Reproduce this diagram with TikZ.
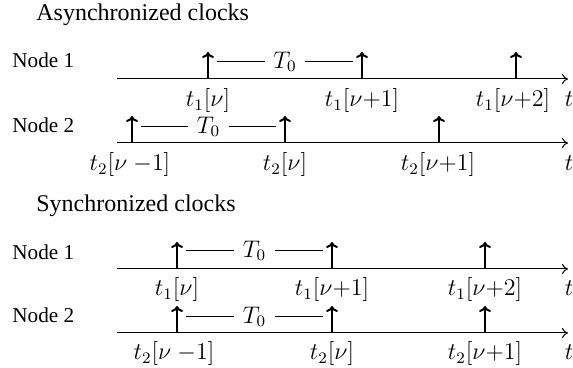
\documentclass[tikz,border=0pt]{standalone}
\usepackage{fontspec}
\setmainfont{Liberation Serif}
\usetikzlibrary{arrows.meta}
\begin{document}
\begin{tikzpicture}[x=0.5pt,y=-0.5pt,
  axis/.style={line width=0.5pt,-{To[length=3pt,width=5pt]}},
  tick/.style={line width=1pt,-{To[length=3pt,width=6pt]}},
  span/.style={line width=0.5pt},
  lab/.style={font=\fontsize{12}{14}\selectfont, inner sep=0pt, anchor=base},
  tz/.style={font=\fontsize{12}{14}\selectfont, inner ysep=0pt, inner xsep=4pt},
  title/.style={font=\fontsize{12}{14}\selectfont, anchor=base west, inner sep=0pt},
  nlab/.style={font=\fontsize{10.6}{12}\selectfont, anchor=base west, inner sep=0pt}]
\useasboundingbox (0,0) rectangle (573,368);
% titles
\node[title] (ta) at (36,21) {Asynchronized clocks};
\node[title] (ts) at (36,212) {Synchronized clocks};
% node labels
\node[nlab] (n1a) at (12,68) {Node 1};
\node[nlab] (n2a) at (12,133) {Node 2};
\node[nlab] (n1s) at (12,260) {Node 1};
\node[nlab] (n2s) at (12,323) {Node 2};
% axes
\coordinate (a1s) at (117,79);  \coordinate (a1e) at (568,79);
\coordinate (a2s) at (117,143); \coordinate (a2e) at (568,143);
\coordinate (s1s) at (117,269); \coordinate (s1e) at (568,269);
\coordinate (s2s) at (117,333); \coordinate (s2e) at (568,333);
\draw[axis] (a1s) -- (a1e);
\draw[axis] (a2s) -- (a2e);
\draw[axis] (s1s) -- (s1e);
\draw[axis] (s2s) -- (s2e);
% ticks: async row 1
\foreach \x/\n in {208/a, 362/b, 516/c} {
  \coordinate (A1\n) at (\x,79); \coordinate (A1\n t) at (\x,52);
  \draw[tick] (A1\n) -- (A1\n t);
}
\foreach \x/\n in {132/a, 285/b, 439/c} {
  \coordinate (A2\n) at (\x,143); \coordinate (A2\n t) at (\x,116);
  \draw[tick] (A2\n) -- (A2\n t);
}
\foreach \x/\n in {177/a, 332/b, 485/c} {
  \coordinate (S1\n) at (\x,269); \coordinate (S1\n t) at (\x,242);
  \draw[tick] (S1\n) -- (S1\n t);
  \coordinate (S2\n) at (\x,333); \coordinate (S2\n t) at (\x,306);
  \draw[tick] (S2\n) -- (S2\n t);
}
% T0 spans
\node[tz] (T1) at (285,62) {$T_0$};
\draw[span] (217,62) -- (T1.west) (T1.east) -- (353,62);
\node[tz] (T2) at (208.5,127) {$T_0$};
\draw[span] (141,127) -- (T2.west) (T2.east) -- (276,127);
\node[tz] (T3) at (254.5,251) {$T_0$};
\draw[span] (186,251) -- (T3.west) (T3.east) -- (323,251);
\node[tz] (T4) at (254.5,317) {$T_0$};
\draw[span] (186,317) -- (T4.west) (T4.east) -- (323,317);
% labels async row 1
\node[lab] (l1a) at (208,107) {$t_1[\nu]$};
\node[lab] (l1b) at (362,107) {$t_1[\nu{+}1]$};
\node[lab] (l1c) at (513,107) {$t_1[\nu{+}2]$};
\node[lab] (l1t) at (569,107) {$t$};
% async row 2
\node[lab] (l2a) at (130,171) {$t_2[\nu\ {-1}]$};
\node[lab] (l2b) at (285,171) {$t_2[\nu]$};
\node[lab] (l2c) at (438,171) {$t_2[\nu{+}1]$};
\node[lab] (l2t) at (569,171) {$t$};
% sync row 1
\node[lab] (l3a) at (177,296) {$t_1[\nu]$};
\node[lab] (l3b) at (332,296) {$t_1[\nu{+}1]$};
\node[lab] (l3c) at (485,296) {$t_1[\nu{+}2]$};
\node[lab] (l3t) at (569,296) {$t$};
% sync row 2
\node[lab] (l4a) at (174,360) {$t_2[\nu\ {-1}]$};
\node[lab] (l4b) at (332,360) {$t_2[\nu]$};
\node[lab] (l4c) at (485,360) {$t_2[\nu{+}1]$};
\node[lab] (l4t) at (569,360) {$t$};
\end{tikzpicture}
\end{document}
